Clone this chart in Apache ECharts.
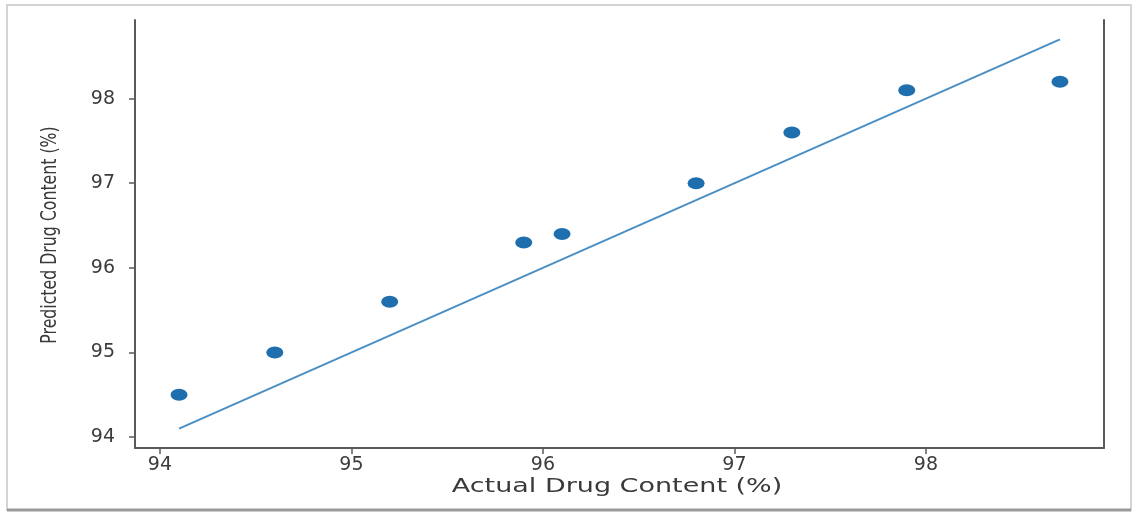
<!DOCTYPE html>
<html>
<head>
<meta charset="utf-8">
<script src="https://cdn.jsdelivr.net/npm/echarts@6/dist/echarts.min.js"></script>
<style>html,body{margin:0;padding:0;background:#fff}#c{width:1134px;height:517px}</style>
</head>
<body>
<div id="c"></div>
<script>
var actual = [94.1, 94.6, 95.2, 95.9, 96.1, 96.8, 97.3, 97.9, 98.7];
var predicted = [94.5, 95.0, 95.6, 96.3, 96.4, 97.0, 97.6, 98.1, 98.2];
var fitLineX = [94.1, 98.7];
var fitLineY = [94.1, 98.7];
var xTicks = [94, 95, 96, 97, 98];
var yTicks = [94, 95, 96, 97, 98];
var xTitle = 'Actual Drug Content (%)';
var yTitle = 'Predicted Drug Content (%)';

var scatterData = actual.map(function (x, i) { return [x, predicted[i]]; });
var lineData = fitLineX.map(function (x, i) { return [x, fitLineY[i]]; });

var chart = echarts.init(document.getElementById('c'), null, {renderer: 'canvas'});
var axisCol = '#5a5a5a';
var labelStyle = {color: '#3c3c3c', fontFamily: 'DejaVu Sans', fontSize: 19};
chart.setOption({
  animation: false,
  grid: {left: 135, right: 30, top: 20, bottom: 69},
  xAxis: {
    type: 'value', min: 93.87, max: 98.93,
    splitLine: {show: false},
    axisLine: {show: true, lineStyle: {color: axisCol, width: 2}},
    axisTick: {show: true, length: 6, lineStyle: {color: axisCol, width: 1.5}, customValues: xTicks},
    axisLabel: Object.assign({margin: 8, customValues: xTicks}, labelStyle)
  },
  yAxis: [{
    type: 'value', min: 93.87, max: 98.93, position: 'left',
    splitLine: {show: false},
    axisLine: {show: true, lineStyle: {color: axisCol, width: 2}},
    axisTick: {show: true, length: 6, lineStyle: {color: axisCol, width: 1.5}, customValues: yTicks},
    axisLabel: Object.assign({margin: 20, customValues: yTicks}, labelStyle)
  }, {
    type: 'value', min: 93.87, max: 98.93, position: 'right',
    splitLine: {show: false},
    axisLine: {show: true, lineStyle: {color: axisCol, width: 2}},
    axisTick: {show: false}, axisLabel: {show: false}
  }],
  graphic: [
    {type: 'rect', shape: {x: 7, y: 5, width: 1124, height: 505},
     style: {fill: 'none', stroke: '#d4d4d4', lineWidth: 2}, z: -1},
    {type: 'line', shape: {x1: 7, y1: 510, x2: 1131, y2: 510},
     style: {stroke: '#9a9a9a', lineWidth: 3}, z: -1},
    {type: 'text', x: 617, y: 487, scaleX: 1.35,
     style: {text: xTitle, fill: '#3a3a3a', font: '20px "DejaVu Sans"', align: 'center', verticalAlign: 'middle'}},
    {type: 'text', x: 51, y: 235, rotation: Math.PI / 2, scaleY: 1.2,
     style: {text: yTitle, fill: '#3a3a3a', font: '17.5px "Liberation Sans Narrow", "DejaVu Sans Condensed", "DejaVu Sans"', align: 'center', verticalAlign: 'middle'}}
  ],
  series: [{
    type: 'line', data: lineData, showSymbol: false, symbol: 'none',
    lineStyle: {color: '#4a8fc4', width: 2}, z: 2
  }, {
    type: 'scatter', data: scatterData, symbol: 'circle', symbolSize: [17, 12],
    itemStyle: {color: '#1f6fae', opacity: 1}, z: 3
  }]
});
</script>
</body>
</html>
